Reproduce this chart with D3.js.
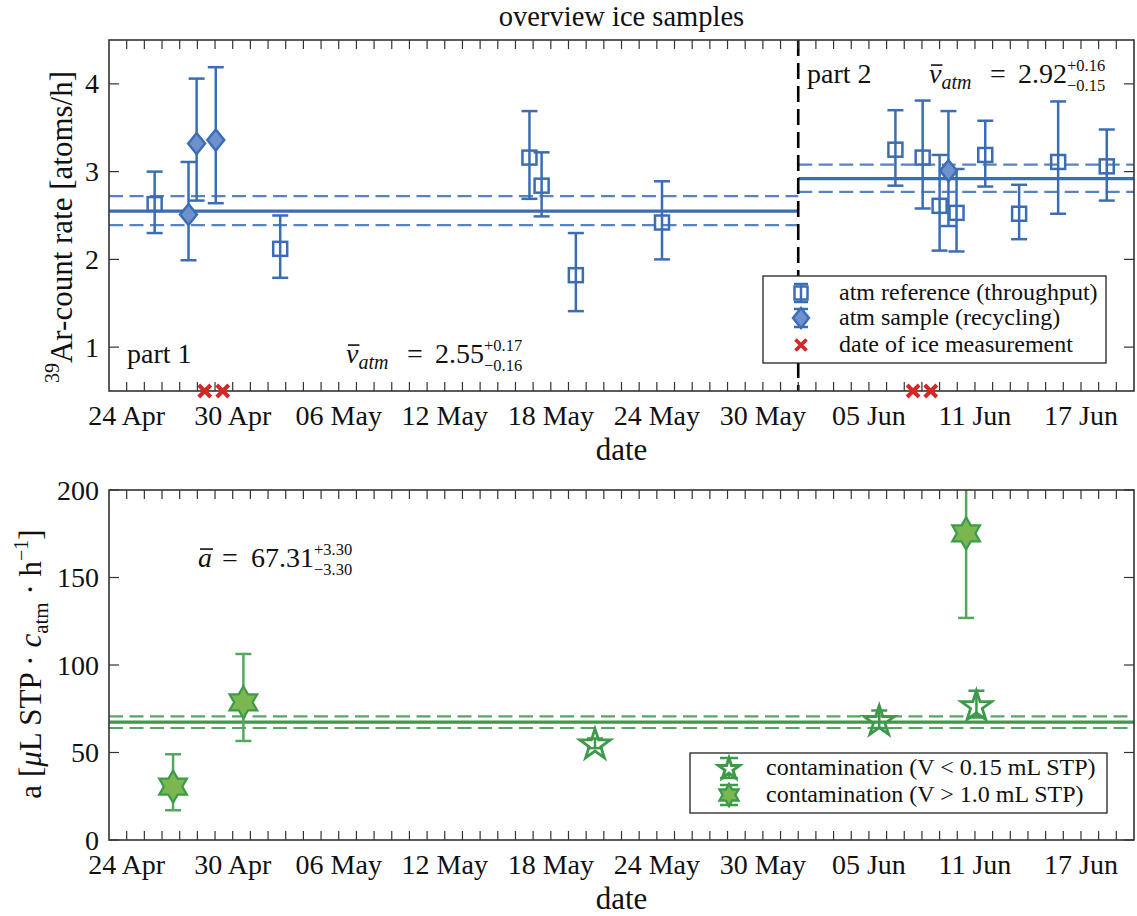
<!DOCTYPE html>
<html><head><meta charset="utf-8">
<script src="https://cdn.jsdelivr.net/npm/d3@7"></script>
<style>
body{margin:0;background:#fff}
svg{display:block}
text{font-family:"Liberation Serif","Times New Roman",serif;fill:#111;white-space:pre}
</style>
</head><body>
<svg id="c" width="1137" height="916"></svg>
<script>
// ---------------- data ----------------
const xDomain = ["2015-04-23", "2015-06-20"];
const xTickDates = ["2015-04-24","2015-04-30","2015-05-06","2015-05-12","2015-05-18","2015-05-24","2015-05-30","2015-06-05","2015-06-11","2015-06-17"];
const xTickLabels = ["24 Apr","30 Apr","06 May","12 May","18 May","24 May","30 May","05 Jun","11 Jun","17 Jun"];
const partSplitDate = "2015-06-01";

// top panel: atm reference (throughput)
const refDates  = ["2015-04-25T14:00","2015-05-02T16:30","2015-05-16T19:00","2015-05-17T11:30","2015-05-19T10:00","2015-05-24T07:00",
                   "2015-06-06T12:00","2015-06-08T01:00","2015-06-09T00:00","2015-06-09T23:00","2015-06-11T14:00","2015-06-13T12:00","2015-06-15T17:00","2015-06-18T11:00"];
const refValues = [2.63, 2.12, 3.16, 2.84, 1.82, 2.42, 3.25, 3.16, 2.61, 2.53, 3.19, 2.52, 3.11, 3.06];
const refLow    = [2.30, 1.79, 2.69, 2.49, 1.41, 2.00, 2.84, 2.58, 2.10, 2.09, 2.83, 2.23, 2.52, 2.67];
const refHigh   = [3.00, 2.50, 3.69, 3.22, 2.30, 2.89, 3.70, 3.81, 3.19, 3.03, 3.58, 2.85, 3.80, 3.48];

// top panel: atm sample (recycling)
const recDates  = ["2015-04-27T12:00","2015-04-27T23:00","2015-04-29T01:00","2015-06-09T12:00"];
const recValues = [2.51, 3.32, 3.36, 3.01];
const recLow    = [1.99, 2.67, 2.64, 2.38];
const recHigh   = [3.11, 4.06, 4.19, 3.69];

// top panel: date of ice measurement
const iceDates = ["2015-04-28T10:00","2015-04-29T10:30","2015-06-07T12:00","2015-06-08T12:00"];

// top panel means
const part1Mean = 2.55, part1Plus = 0.17, part1Minus = 0.16;
const part2Mean = 2.92, part2Plus = 0.16, part2Minus = 0.15;
const topYDomain = [0.5, 4.5];
const topYTicks = [1, 2, 3, 4];

// bottom panel: contamination
const smallDates  = ["2015-05-20T12:00","2015-06-05T14:00","2015-06-11T02:00"];
const smallValues = [55.2, 68.6, 77.1];
const smallLow    = [52.5, 64.0, 70.0];
const smallHigh   = [58.0, 74.0, 85.3];

const largeDates  = ["2015-04-26T15:00","2015-04-30T14:30","2015-06-10T12:00"];
const largeValues = [30.5, 78.7, 175.2];
const largeLow    = [17.0, 56.6, 126.9];
const largeHigh   = [49.0, 106.3, 223.5];

const aMean = 67.31, aPlus = 3.30, aMinus = 3.30;
const botYDomain = [0, 200];
const botYTicks = [0, 50, 100, 150, 200];

// ---------------- helpers ----------------
function pd(s){
  const [d,t="00:00"] = s.split("T");
  const [Y,M,D] = d.split("-").map(Number);
  const [h,m] = t.split(":").map(Number);
  return new Date(Date.UTC(Y,M-1,D,h,m));
}
const BLUE = "#3b6db5", BLUE_FILL = "#6e90cb", RED = "#d62728";
const GREEN = "#3d9a4b", GREEN_L = "#55a760", GREEN_FILL = "#7ab84f";
const INK = "#333";
const FS_TICK = 28, FS_LAB = 31, FS_TITLE = 28.5, FS_LEG = 24, FS_ANN = 28, FS_SS = 16.5;

const svg = d3.select("#c");
const L = 109, R = 1134;
const topP = {t:40, b:391};
const botP = {t:490, b:840};

const x = d3.scaleUtc().domain(xDomain.map(pd)).range([L, R]);
const yTop = d3.scaleLinear().domain(topYDomain).range([topP.b, topP.t]);
const yBot = d3.scaleLinear().domain(botYDomain).range([botP.b, botP.t]);

function rich(parent, parts, base){
  let cx = 0;
  parts.forEach(p=>{
    if (p.ax !== undefined) cx = p.ax;
    if (p.stack){
      const s = p.size || Math.round(base*0.72);
      const a = parent.append("text").attr("x",cx).attr("y",p.up).attr("font-size",s).text(p.stack[0]);
      const b = parent.append("text").attr("x",cx).attr("y",p.down).attr("font-size",s).text(p.stack[1]);
      cx += Math.max(a.node().getComputedTextLength(), b.node().getComputedTextLength());
    } else {
      const s = p.size || base;
      const x0 = cx + (p.dx||0);
      const t = parent.append("text").attr("x",x0).attr("y",p.dy||0).attr("font-size",s)
        .attr("font-style",p.it?"italic":"normal").text(p.t);
      const w = t.node().getComputedTextLength();
      if (p.bar) parent.append("line").attr("x1",x0+2).attr("x2",x0+w+1)
        .attr("y1",-s*0.64).attr("y2",-s*0.64).attr("stroke","#111").attr("stroke-width",1.6);
      cx = x0 + w;
    }
  });
  return cx;
}

function hexagram(R){
  const r = R/Math.sqrt(3), pts=[];
  for(let k=0;k<12;k++){const a=-Math.PI/2+k*Math.PI/6, rr=k%2?r:R; pts.push([rr*Math.cos(a), rr*Math.sin(a)]);}
  return "M"+pts.map(p=>p.join(",")).join("L")+"Z";
}
function star5(R){
  const r = R*0.382, pts=[];
  for(let k=0;k<10;k++){const a=-Math.PI/2+k*Math.PI/5, rr=k%2?r:R; pts.push([rr*Math.cos(a), rr*Math.sin(a)]);}
  return "M"+pts.map(p=>p.join(",")).join("L")+"Z";
}
function diamond(w,h){return `M0,${-h}L${w},0L0,${h}L${-w},0Z`;}

function errbars(g, dates, lows, highs, y, color, cap, sw){
  dates.forEach((d,i)=>{
    const xx = x(pd(d));
    g.append("line").attr("x1",xx).attr("x2",xx).attr("y1",y(lows[i])).attr("y2",y(highs[i]))
      .attr("stroke",color).attr("stroke-width",sw);
    [lows[i],highs[i]].forEach(v=>g.append("line").attr("x1",xx-cap).attr("x2",xx+cap)
      .attr("y1",y(v)).attr("y2",y(v)).attr("stroke",color).attr("stroke-width",sw));
  });
}

function frameAndTicks(p, y, yticks){
  const g = svg.append("g");
  const days = d3.utcDay.range(pd(xDomain[0]), pd(xDomain[1]));
  days.forEach(d=>{
    const xx = x(d);
    if (xx<=L+0.5) return;
    g.append("line").attr("x1",xx).attr("x2",xx).attr("y1",p.b).attr("y2",p.b-9).attr("stroke",INK).attr("stroke-width",1.2);
    g.append("line").attr("x1",xx).attr("x2",xx).attr("y1",p.t).attr("y2",p.t+9).attr("stroke",INK).attr("stroke-width",1.2);
  });
  yticks.forEach(v=>{
    const yy = y(v);
    g.append("line").attr("x1",L).attr("x2",L+10).attr("y1",yy).attr("y2",yy).attr("stroke",INK).attr("stroke-width",1.2);
    g.append("line").attr("x1",R).attr("x2",R-10).attr("y1",yy).attr("y2",yy).attr("stroke",INK).attr("stroke-width",1.2);
    g.append("text").attr("x",99).attr("y",yy).attr("dy","0.34em").attr("text-anchor","end")
      .attr("font-size",FS_TICK).text(v);
  });
  g.append("rect").attr("x",L).attr("y",p.t).attr("width",R-L).attr("height",p.b-p.t)
    .attr("fill","none").attr("stroke",INK).attr("stroke-width",1.6);
  xTickDates.forEach((d,i)=>{
    g.append("text").attr("x",x(pd(d))).attr("y",p.b+34).attr("text-anchor","middle")
      .attr("font-size",FS_TICK).text(xTickLabels[i]);
  });
  g.append("text").attr("x",(L+R)/2).attr("y",p.b+69).attr("text-anchor","middle").attr("font-size",FS_LAB).text("date");
}

// clip paths
const defs = svg.append("defs");
defs.append("clipPath").attr("id","clipTop").append("rect").attr("x",L).attr("y",topP.t).attr("width",R-L).attr("height",topP.b-topP.t);
defs.append("clipPath").attr("id","clipBot").append("rect").attr("x",L).attr("y",botP.t).attr("width",R-L).attr("height",botP.b-botP.t);

// ---------------- title ----------------
svg.append("text").attr("x",(L+R)/2).attr("y",26).attr("text-anchor","middle").attr("font-size",FS_TITLE).text("overview ice samples");

// ---------------- top panel ----------------
const gt = svg.append("g").attr("clip-path","url(#clipTop)");
const split = x(pd(partSplitDate));
[[L,split,part1Mean,part1Plus,part1Minus],[split,R,part2Mean,part2Plus,part2Minus]].forEach(([x1,x2,m,pl,mi])=>{
  gt.append("line").attr("x1",x1).attr("x2",x2).attr("y1",yTop(m)).attr("y2",yTop(m)).attr("stroke",BLUE).attr("stroke-width",3.2);
  [m+pl, m-mi].forEach(v=>gt.append("line").attr("x1",x1).attr("x2",x2).attr("y1",yTop(v)).attr("y2",yTop(v))
    .attr("stroke",BLUE).attr("stroke-opacity",0.85).attr("stroke-width",2.2).attr("stroke-dasharray","14,6.5"));
});
gt.append("line").attr("x1",split).attr("x2",split).attr("y1",topP.t).attr("y2",topP.b)
  .attr("stroke","#000").attr("stroke-width",2.6).attr("stroke-dasharray","16,7");

errbars(gt, refDates, refLow, refHigh, yTop, BLUE, 8, 2.5);
errbars(gt, recDates, recLow, recHigh, yTop, BLUE, 8, 2.5);
refDates.forEach((d,i)=>gt.append("rect").attr("x",x(pd(d))-7).attr("y",yTop(refValues[i])-7).attr("width",14).attr("height",14)
  .attr("fill","none").attr("stroke",BLUE).attr("stroke-width",2.5));
recDates.forEach((d,i)=>gt.append("path").attr("d",diamond(8.5,10.5)).attr("transform",`translate(${x(pd(d))},${yTop(recValues[i])})`)
  .attr("fill",BLUE_FILL).attr("stroke",BLUE).attr("stroke-width",2.4));

frameAndTicks(topP, yTop, topYTicks);

// ice measurement crosses (not clipped)
iceDates.forEach(d=>{
  const xx = x(pd(d)), yy = topP.b;
  svg.append("path").attr("d",`M${xx-6},${yy-6}L${xx+6},${yy+6}M${xx-6},${yy+6}L${xx+6},${yy-6}`)
    .attr("stroke",RED).attr("stroke-width",4);
});

// annotations top
svg.append("text").attr("x",127).attr("y",363).attr("font-size",FS_ANN).text("part 1");
svg.append("text").attr("x",807).attr("y",83).attr("font-size",FS_ANN).text("part 2");
function nuAnn(tx, ty, val, pl, mi){
  rich(svg.append("g").attr("transform",`translate(${tx},${ty})`), [
    {t:"ν",it:true,bar:true},{t:"atm",it:true,size:20,dy:6},{t:"=",ax:61},{t:val,ax:89},
    {stack:["+"+pl.toFixed(2),"−"+mi.toFixed(2)],up:-12,down:8,size:FS_SS}], FS_ANN);
}
nuAnn(346, 363, part1Mean.toFixed(2), part1Plus, part1Minus);
nuAnn(929, 83, part2Mean.toFixed(2), part2Plus, part2Minus);

// y label top
{
  const g = svg.append("g").attr("transform","translate(72,227) rotate(-90)");
  const inner = g.append("g");
  const w = rich(inner, [{t:"39",size:20,dy:-13},{t:"Ar-count rate [atoms/h]"}], FS_LAB);
  inner.attr("transform",`translate(${-w/2},0)`);
}

// legend top
{
  const g = svg.append("g");
  g.append("rect").attr("x",763).attr("y",276).attr("width",343).attr("height",87).attr("fill","#fff").attr("stroke","#222").attr("stroke-width",1.3);
  const mx = 801, rows=[293,318,345];
  const labels = ["atm reference (throughput)","atm sample (recycling)","date of ice measurement"];
  [0,1].forEach(i=>{
    const yy = rows[i];
    g.append("line").attr("x1",mx).attr("x2",mx).attr("y1",yy-9).attr("y2",yy+9).attr("stroke",BLUE).attr("stroke-width",2.5);
    [yy-9,yy+9].forEach(v=>g.append("line").attr("x1",mx-7).attr("x2",mx+7).attr("y1",v).attr("y2",v).attr("stroke",BLUE).attr("stroke-width",2.5));
  });
  g.append("rect").attr("x",mx-6.5).attr("y",rows[0]-6.5).attr("width",13).attr("height",13).attr("fill","none").attr("stroke",BLUE).attr("stroke-width",2.5);
  g.append("path").attr("d",diamond(8,10)).attr("transform",`translate(${mx},${rows[1]})`).attr("fill",BLUE_FILL).attr("stroke",BLUE).attr("stroke-width",2.4);
  g.append("path").attr("d",`M${mx-5.5},${rows[2]-5.5}L${mx+5.5},${rows[2]+5.5}M${mx-5.5},${rows[2]+5.5}L${mx+5.5},${rows[2]-5.5}`).attr("stroke",RED).attr("stroke-width",3.8);
  labels.forEach((t,i)=>g.append("text").attr("x",839).attr("y",rows[i]+7).attr("font-size",FS_LEG).text(t));
}

// ---------------- bottom panel ----------------
const gb = svg.append("g").attr("clip-path","url(#clipBot)");
gb.append("line").attr("x1",L).attr("x2",R).attr("y1",yBot(aMean)).attr("y2",yBot(aMean)).attr("stroke",GREEN).attr("stroke-width",3.2);
[aMean+aPlus, aMean-aMinus].forEach(v=>gb.append("line").attr("x1",L).attr("x2",R).attr("y1",yBot(v)).attr("y2",yBot(v))
  .attr("stroke",GREEN_L).attr("stroke-width",2.2).attr("stroke-dasharray","14,6.5"));

errbars(gb, largeDates, largeLow, largeHigh, yBot, GREEN_L, 8, 2.5);
errbars(gb, smallDates, smallLow, smallHigh, yBot, GREEN, 8, 2.5);
largeDates.forEach((d,i)=>gb.append("path").attr("d",hexagram(16)).attr("transform",`translate(${x(pd(d))},${yBot(largeValues[i])})`)
  .attr("fill",GREEN_FILL).attr("stroke",GREEN).attr("stroke-width",2.2));
smallDates.forEach((d,i)=>gb.append("path").attr("d",star5(16)).attr("transform",`translate(${x(pd(d))},${yBot(smallValues[i])+1.5})`)
  .attr("fill","none").attr("stroke",GREEN).attr("stroke-width",2.8));

frameAndTicks(botP, yBot, botYTicks);

rich(svg.append("g").attr("transform","translate(198,567)"), [
  {t:"a",it:true,bar:true},{t:"=",ax:24},{t:aMean.toFixed(2),ax:53},
  {stack:["+"+aPlus.toFixed(2),"−"+aMinus.toFixed(2)],up:-12,down:8,size:FS_SS}], FS_ANN);

// y label bottom
{
  const g = svg.append("g").attr("transform","translate(41,664) rotate(-90)");
  const inner = g.append("g");
  const w = rich(inner, [{t:"a ["},{t:"μ",it:true},{t:"L STP · "},{t:"c",it:true},{t:"atm",size:21,dy:7},
    {t:" · h"},{t:"−1",size:20,dy:-13},{t:"]"}], FS_LAB);
  inner.attr("transform",`translate(${-w/2},0)`);
}

// legend bottom
{
  const g = svg.append("g");
  g.append("rect").attr("x",690).attr("y",753).attr("width",417).attr("height",60).attr("fill","#fff").attr("stroke","#222").attr("stroke-width",1.3);
  const mx = 729, rows=[768,795];
  rows.forEach(yy=>{
    g.append("line").attr("x1",mx).attr("x2",mx).attr("y1",yy-10).attr("y2",yy+10).attr("stroke",GREEN).attr("stroke-width",2.5);
    [yy-10,yy+10].forEach(v=>g.append("line").attr("x1",mx-9).attr("x2",mx+9).attr("y1",v).attr("y2",v).attr("stroke",GREEN).attr("stroke-width",2.5));
  });
  g.append("path").attr("d",star5(11)).attr("transform",`translate(${mx},${rows[0]+1})`).attr("fill","#fff").attr("stroke",GREEN).attr("stroke-width",3);
  g.append("path").attr("d",hexagram(11)).attr("transform",`translate(${mx},${rows[1]})`).attr("fill",GREEN_FILL).attr("stroke",GREEN).attr("stroke-width",2.4);
  ["contamination (V < 0.15 mL STP)","contamination (V > 1.0 mL STP)"].forEach((t,i)=>
    g.append("text").attr("x",766).attr("y",rows[i]+7).attr("font-size",FS_LEG).text(t));
}
</script>
</body></html>
